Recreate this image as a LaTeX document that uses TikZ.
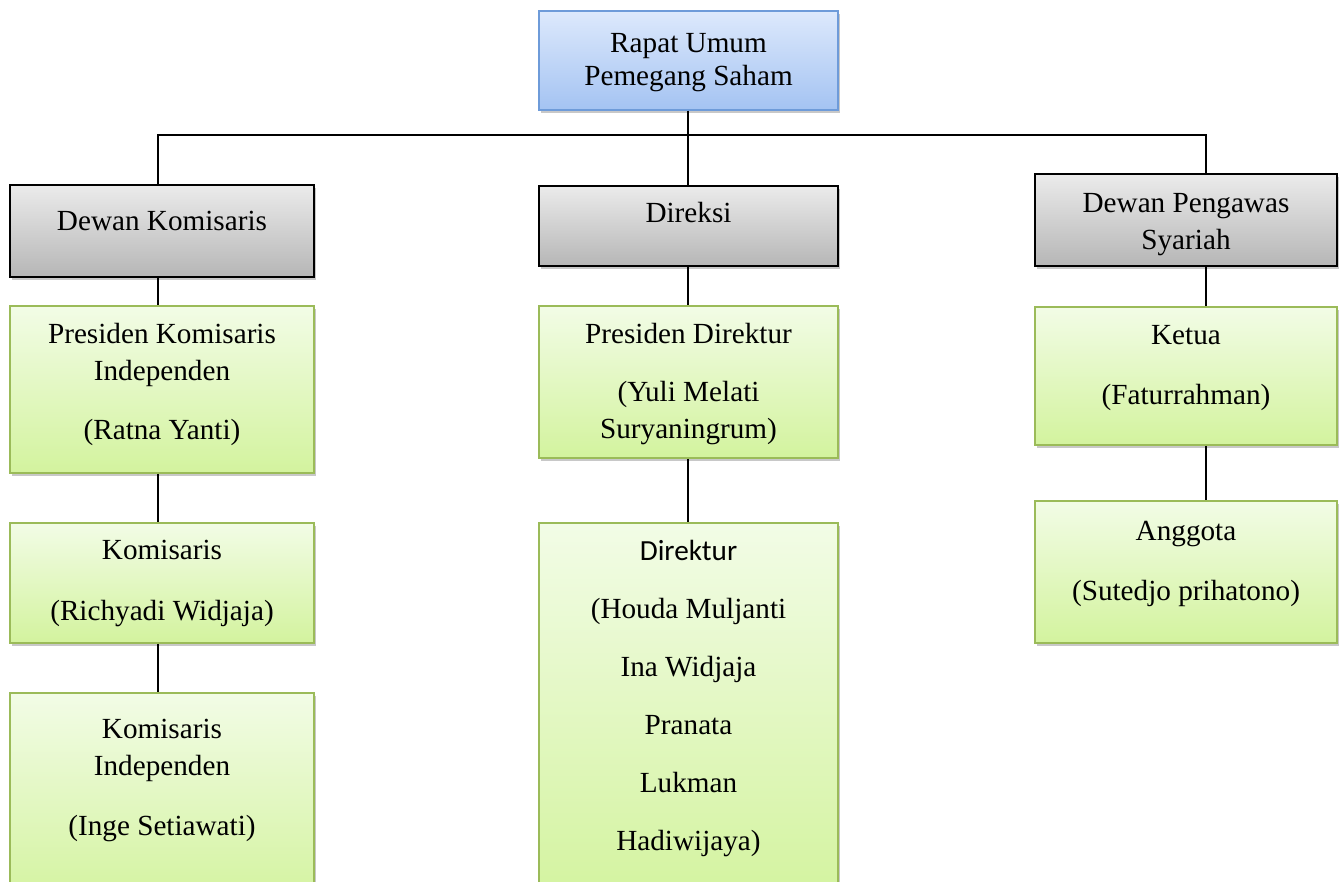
\documentclass[tikz,border=0pt]{standalone}
\usepackage{fontspec}
\setmainfont{Liberation Serif}
\newfontfamily\calfont{Carlito}
\usetikzlibrary{shadows}
\definecolor{bluetop}{HTML}{DDE9FC}
\definecolor{bluebot}{HTML}{A4C3F2}
\definecolor{blueline}{HTML}{6E9BD9}
\definecolor{graytop}{HTML}{EBEBEB}
\definecolor{graybot}{HTML}{B6B6B6}
\definecolor{greentop}{HTML}{F2FCE6}
\definecolor{greenbot}{HTML}{D3F39E}
\definecolor{greenline}{HTML}{9BBB59}
\tikzset{
  box/.style={rectangle, inner sep=0pt, line width=1.5pt,
    drop shadow={shadow xshift=2pt, shadow yshift=-3pt, opacity=0.3, fill=black!70}},
  bluebox/.style={box, draw=blueline, top color=bluetop, bottom color=bluebot},
  graybox/.style={box, draw=black, top color=graytop, bottom color=graybot},
  greenbox/.style={box, draw=greenline, top color=greentop, bottom color=greenbot},
  txt/.style={inner sep=0pt, align=center, font=\fontsize{29.2}{37}\selectfont},
  conn/.style={line width=2pt, draw=black},
}
\begin{document}
\begin{tikzpicture}[x=1pt, y=-1pt]
\clip (0,0) rectangle (1344,882);
\fill[white] (0,0) rectangle (1344,882);

% boxes
\node[bluebox, minimum width=299pt, minimum height=99pt] (rups) at (688.5,60.5) {};
\node[graybox, minimum width=304pt, minimum height=92pt] (dk) at (162,231) {};
\node[graybox, minimum width=299pt, minimum height=80pt] (dir) at (688.5,226) {};
\node[graybox, minimum width=302pt, minimum height=92pt] (dps) at (1186,220) {};
\node[greenbox, minimum width=304pt, minimum height=167pt] (pk) at (162,389.5) {};
\node[greenbox, minimum width=304pt, minimum height=120pt] (kom) at (162,583) {};
\node[greenbox, minimum width=304pt, minimum height=212pt] (ki) at (162,799) {};
\node[greenbox, minimum width=299pt, minimum height=152pt] (pd) at (688.5,382) {};
\node[greenbox, minimum width=299pt, minimum height=382pt] (drk) at (688.5,714) {};
\node[greenbox, minimum width=302pt, minimum height=138pt] (ket) at (1186,376) {};
\node[greenbox, minimum width=302pt, minimum height=142pt] (ang) at (1186,572) {};

% connector guides
\coordinate (lx) at (158,0);
\coordinate (rx) at (1206,0);
\coordinate (bus) at (688,135);

\draw[conn] (rups.south -| bus) -- (bus);
\draw[conn] (bus) -| (dk.north -| lx);
\draw[conn] (bus) -| (dps.north -| rx);
\draw[conn] (bus) -- (dir.north -| bus);
\draw[conn] (dk.south -| lx) -- (pk.north -| lx);
\draw[conn] (pk.south -| lx) -- (kom.north -| lx);
\draw[conn] (kom.south -| lx) -- (ki.north -| lx);
\draw[conn] (dir.south -| bus) -- (pd.north -| bus);
\draw[conn] (pd.south -| bus) -- (drk.north -| bus);
\draw[conn] (dps.south -| rx) -- (ket.north -| rx);
\draw[conn] (ket.south -| rx) -- (ang.north -| rx);

% texts
\node[txt] (rups-t) at (688.5,61.5) {\strut Rapat Umum\\[-4pt]\strut Pemegang Saham};
\node[txt] (dk-t) at (162,223) {\strut Dewan Komisaris};
\node[txt] (dir-t) at (688.5,215) {\strut Direksi};
\node[txt] (dps-t) at (1186,223.5) {\strut Dewan Pengawas\\\strut Syariah};
\node[txt] (pk-t) at (162,384) {\strut Presiden Komisaris\\\strut Independen\\[22pt]\strut (Ratna Yanti)};
\node[txt] (kom-t) at (162,582.5) {\strut Komisaris\\[24pt]\strut (Richyadi Widjaja)};
\node[txt] (ki-t) at (162,780) {\strut Komisaris\\\strut Independen\\[23pt]\strut (Inge Setiawati)};
\node[txt] (pd-t) at (688.5,383.5) {\strut Presiden Direktur\\[21pt]\strut (Yuli Melati\\\strut Suryaningrum)};
\node[txt] (drk-t) at (688.5,698) {{\calfont\strut Direktur}\\[21pt]\strut (Houda Muljanti\\[21pt]\strut Ina Widjaja\\[21pt]\strut Pranata\\[21pt]\strut Lukman\\[21pt]\strut Hadiwijaya)};
\node[txt] (ket-t) at (1186,367) {\strut Ketua\\[23pt]\strut (Faturrahman)};
\node[txt] (ang-t) at (1186,563) {\strut Anggota\\[23pt]\strut (Sutedjo prihatono)};
\end{tikzpicture}
\end{document}
